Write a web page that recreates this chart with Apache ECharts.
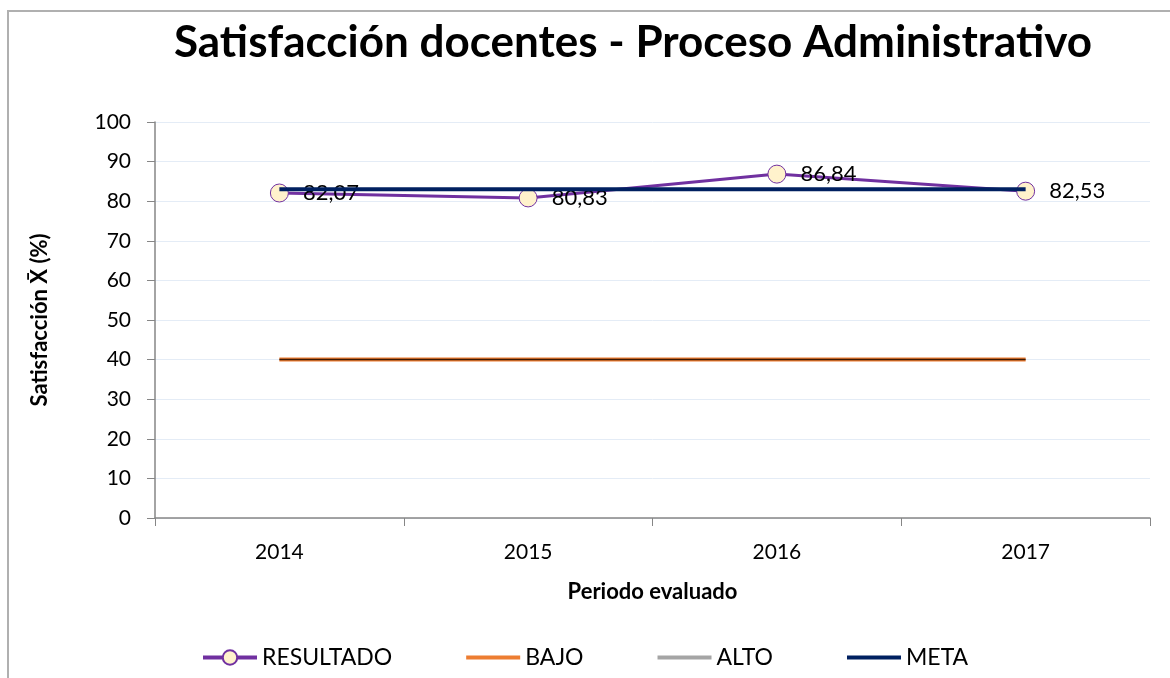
<!DOCTYPE html>
<html>
<head>
<meta charset="utf-8">
<script src="https://cdn.jsdelivr.net/npm/echarts@6/dist/echarts.min.js"></script>
<style>
  html, body { margin: 0; padding: 0; background: #fff; }
  #frame { position: absolute; left: 7px; top: 10px; width: 1200px; height: 700px; border-top: 2px solid #b0b0b0; border-left: 2px solid #b0b0b0; }
  #chart { position: absolute; left: 0; top: 0; width: 1170px; height: 678px; }
</style>
</head>
<body>
<div id="frame"></div>
<div id="chart"></div>
<script>
const years = ['2014', '2015', '2016', '2017'];
const resultado = [82.07, 80.83, 86.84, 82.53];
const bajo = [40, 40, 40, 40];
const alto = [];
const meta = [83, 83, 83, 83];

document.addEventListener('DOMContentLoaded', () => {
    const chart = echarts.init(document.getElementById('chart'));
    const font = 'Lato, "Open Sans", sans-serif';
    const noMark = { color: 'rgba(0,0,0,0)', borderWidth: 0 };
    const option = {
        animation: false,
        textStyle: { fontFamily: font },
        title: {
            text: 'Satisfacción docentes - Proceso Administrativo',
            left: 628, top: 16, textAlign: 'center',
            textStyle: { fontSize: 44, fontWeight: 'bold', color: '#000', fontFamily: font }
        },
        legend: {
            data: [
                { name: 'RESULTADO', lineStyle: { width: 4 } },
                { name: 'BAJO', lineStyle: { width: 4 }, itemStyle: noMark },
                { name: 'ALTO', lineStyle: { width: 4 }, itemStyle: noMark },
                { name: 'META', lineStyle: { width: 4 }, itemStyle: noMark }
            ],
            top: 641, left: 196, itemGap: 72, itemWidth: 54, itemHeight: 18,
            textStyle: { fontSize: 23, color: '#000', fontFamily: font }
        },
        grid: { left: 155, right: 20, top: 122, bottom: 160 },
        xAxis: {
            type: 'category',
            data: years,
            name: 'Periodo evaluado', nameLocation: 'middle', nameGap: 63,
            nameTextStyle: { fontSize: 22, fontWeight: 'bold', color: '#000' },
            axisLine: { lineStyle: { color: '#868686', width: 1.5 } },
            axisTick: { show: true, length: 8, lineStyle: { color: '#868686' } },
            axisLabel: { fontSize: 21, color: '#000', margin: 24 }
        },
        yAxis: {
            type: 'value', min: 0, max: 100, interval: 10,
            name: 'Satisfacción X̄ (%)', nameLocation: 'middle', nameGap: 104,
            nameTextStyle: { fontSize: 22, fontWeight: 'bold', color: '#000' },
            axisLine: { show: true, lineStyle: { color: '#868686', width: 1.5 } },
            axisTick: { show: true, length: 8, lineStyle: { color: '#868686' } },
            axisLabel: { fontSize: 21, color: '#000', margin: 24 },
            splitLine: { lineStyle: { color: '#e4ecf6', width: 1 } }
        },
        series: [
            {
                name: 'BAJO', type: 'line', data: bajo, symbol: 'none', z: 2,
                color: '#ED7D31', lineStyle: { width: 4, color: '#ED7D31' }
            },
            {
                name: 'BAJO_core', type: 'line', data: bajo, symbol: 'none', z: 3,
                lineStyle: { width: 1.5, color: '#3d1a05' }, tooltip: { show: false }
            },
            {
                name: 'ALTO', type: 'line', data: alto, symbol: 'none',
                color: '#A5A5A5', lineStyle: { width: 4, color: '#A5A5A5' }
            },
            {
                name: 'RESULTADO', type: 'line', data: resultado, z: 4,
                symbol: 'circle', symbolSize: 18,
                color: '#7030A0',
                lineStyle: { width: 3, color: '#7030A0' },
                itemStyle: { color: '#FFF2CC', borderColor: '#7030A0', borderWidth: 1 },
                label: {
                    show: true, position: 'right', distance: 14,
                    fontSize: 22, color: '#000',
                    formatter: p => p.value.toFixed(2).replace('.', ',')
                }
            },
            {
                name: 'META', type: 'line', data: meta, symbol: 'none', z: 5,
                color: '#002060', lineStyle: { width: 4, color: '#002060' }
            }
        ]
    };
    chart.setOption(option);
    window.addEventListener('resize', () => chart.resize());
});
</script>
</body>
</html>
